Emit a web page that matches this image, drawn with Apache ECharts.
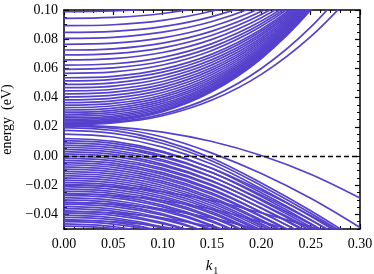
<!DOCTYPE html>
<html><head><meta charset="utf-8">
<script src="https://cdn.jsdelivr.net/npm/echarts@6/dist/echarts.min.js"></script>
<style>html,body{margin:0;padding:0;background:#fff}#c{width:374px;height:274px}</style>
</head><body><div id="c"></div>
<script>
// k grid (x values) shared by every band
const kValues = [0, 0.05, 0.10, 0.15, 0.20, 0.25, 0.30];

// conduction subbands (eV) read at kValues
const conductionBands = [
  [0.0988, 0.0993, 0.1018, 0.1072, 0.1160, 0.1288, 0.1461],
  [0.0943, 0.0949, 0.0976, 0.1035, 0.1131, 0.1271, 0.1460],
  [0.0893, 0.0899, 0.0929, 0.0993, 0.1098, 0.1252, 0.1459],
  [0.0847, 0.0854, 0.0886, 0.0955, 0.1069, 0.1235, 0.1459],
  [0.0806, 0.0813, 0.0848, 0.0921, 0.1042, 0.1219, 0.1457],
  [0.0765, 0.0773, 0.0809, 0.0887, 0.1016, 0.1204, 0.1457],
  [0.0726, 0.0734, 0.0773, 0.0855, 0.0991, 0.1189, 0.1456],
  [0.0692, 0.0701, 0.0741, 0.0827, 0.0969, 0.1176, 0.1455],
  [0.0658, 0.0667, 0.0709, 0.0799, 0.0947, 0.1163, 0.1454],
  [0.0623, 0.0632, 0.0676, 0.0770, 0.0924, 0.1150, 0.1454],
  [0.0594, 0.0604, 0.0649, 0.0746, 0.0906, 0.1139, 0.1453],
  [0.0566, 0.0576, 0.0623, 0.0723, 0.0888, 0.1129, 0.1454],
  [0.0536, 0.0546, 0.0595, 0.0698, 0.0868, 0.1117, 0.1452],
  [0.0514, 0.0525, 0.0574, 0.0680, 0.0854, 0.1109, 0.1452],
  [0.0490, 0.0501, 0.0552, 0.0660, 0.0839, 0.1100, 0.1452],
  [0.0468, 0.0479, 0.0531, 0.0642, 0.0825, 0.1092, 0.1452],
  [0.0446, 0.0457, 0.0510, 0.0624, 0.0810, 0.1083, 0.1451],
  [0.0425, 0.0437, 0.0491, 0.0606, 0.0797, 0.1075, 0.1450],
  [0.0405, 0.0417, 0.0472, 0.0590, 0.0784, 0.1068, 0.1451],
  [0.0385, 0.0397, 0.0453, 0.0573, 0.0771, 0.1060, 0.1450],
  [0.0366, 0.0378, 0.0435, 0.0558, 0.0759, 0.1053, 0.1449],
  [0.0348, 0.0360, 0.0418, 0.0543, 0.0747, 0.1046, 0.1449],
  [0.0331, 0.0344, 0.0403, 0.0529, 0.0737, 0.1040, 0.1449],
  [0.0315, 0.0328, 0.0388, 0.0516, 0.0726, 0.1034, 0.1449],
  [0.0300, 0.0313, 0.0374, 0.0503, 0.0716, 0.1028, 0.1448],
  [0.0286, 0.0299, 0.0360, 0.0492, 0.0708, 0.1023, 0.1448],
  [0.0273, 0.0286, 0.0348, 0.0481, 0.0699, 0.1018, 0.1448],
  [0.0261, 0.0274, 0.0337, 0.0471, 0.0692, 0.1014, 0.1448],
  [0.0250, 0.0264, 0.0327, 0.0462, 0.0684, 0.1009, 0.1447],
  [0.0240, 0.0254, 0.0317, 0.0454, 0.0678, 0.1006, 0.1448],
  [0.0232, 0.0246, 0.0310, 0.0447, 0.0673, 0.1003, 0.1448],
  [0.0225, 0.0239, 0.0303, 0.0441, 0.0668, 0.1000, 0.1447],
  [0.0220, 0.0232, 0.0287, 0.0405, 0.0599, 0.0882, 0.1264],
  [0.0215, 0.0226, 0.0276, 0.0383, 0.0559, 0.0817, 0.1164]
];

// valence subbands (eV) read at kValues
const valenceBands = [
  [0.0210, 0.0200, 0.0164, 0.0099, 0.0003, -0.0125, -0.0288],
  [0.0205, 0.0190, 0.0130, 0.0020, -0.0120, -0.0290, -0.0490],
  [0.0195, 0.0175, 0.0105, -0.0015, -0.0185, -0.0375, -0.0585],
  [0.0175, 0.0155, 0.0086, -0.0034, -0.0203, -0.0392, -0.0600],
  [0.0150, 0.0130, 0.0061, -0.0057, -0.0225, -0.0413, -0.0620],
  [0.0120, 0.0100, 0.0032, -0.0085, -0.0252, -0.0437, -0.0643],
  [0.0090, 0.0071, 0.0003, -0.0113, -0.0278, -0.0462, -0.0666],
  [0.0060, 0.0041, -0.0026, -0.0142, -0.0305, -0.0487, -0.0689],
  [0.0030, 0.0011, -0.0056, -0.0170, -0.0331, -0.0512, -0.0712],
  [0.0000, -0.0019, -0.0085, -0.0198, -0.0358, -0.0537, -0.0735],
  [-0.0030, -0.0049, -0.0114, -0.0226, -0.0385, -0.0562, -0.0758],
  [-0.0060, -0.0078, -0.0143, -0.0254, -0.0411, -0.0587, -0.0781],
  [-0.0090, -0.0108, -0.0172, -0.0282, -0.0438, -0.0612, -0.0804],
  [-0.0120, -0.0138, -0.0202, -0.0310, -0.0465, -0.0637, -0.0827],
  [-0.0150, -0.0168, -0.0231, -0.0339, -0.0491, -0.0662, -0.0850],
  [-0.0180, -0.0198, -0.0260, -0.0367, -0.0518, -0.0687, -0.0873],
  [-0.0210, -0.0228, -0.0289, -0.0395, -0.0544, -0.0712, -0.0896],
  [-0.0240, -0.0257, -0.0318, -0.0423, -0.0571, -0.0736, -0.0919],
  [-0.0270, -0.0287, -0.0348, -0.0451, -0.0598, -0.0761, -0.0942],
  [-0.0300, -0.0317, -0.0377, -0.0479, -0.0624, -0.0786, -0.0965],
  [-0.0330, -0.0347, -0.0406, -0.0507, -0.0651, -0.0811, -0.0988],
  [-0.0360, -0.0377, -0.0435, -0.0536, -0.0678, -0.0837, -0.1012],
  [-0.0390, -0.0407, -0.0464, -0.0564, -0.0704, -0.0861, -0.1035],
  [-0.0420, -0.0436, -0.0494, -0.0592, -0.0731, -0.0886, -0.1058],
  [-0.0450, -0.0466, -0.0523, -0.0620, -0.0757, -0.0911, -0.1081],
  [-0.0480, -0.0496, -0.0552, -0.0648, -0.0784, -0.0936, -0.1104],
  [0.0105, 0.0087, 0.0024, -0.0084, -0.0237, -0.0408, -0.0597],
  [0.0075, 0.0057, -0.0006, -0.0114, -0.0267, -0.0438, -0.0627],
  [0.0045, 0.0027, -0.0036, -0.0144, -0.0297, -0.0468, -0.0657],
  [0.0015, -0.0003, -0.0066, -0.0174, -0.0327, -0.0498, -0.0687],
  [-0.0015, -0.0033, -0.0096, -0.0204, -0.0357, -0.0528, -0.0717],
  [-0.0045, -0.0063, -0.0126, -0.0234, -0.0387, -0.0558, -0.0747],
  [-0.0075, -0.0093, -0.0156, -0.0264, -0.0417, -0.0588, -0.0777],
  [-0.0105, -0.0123, -0.0186, -0.0294, -0.0447, -0.0618, -0.0807],
  [-0.0135, -0.0153, -0.0216, -0.0324, -0.0477, -0.0648, -0.0837],
  [-0.0165, -0.0183, -0.0246, -0.0354, -0.0507, -0.0678, -0.0867],
  [-0.0195, -0.0213, -0.0276, -0.0384, -0.0537, -0.0708, -0.0897],
  [-0.0225, -0.0243, -0.0306, -0.0414, -0.0567, -0.0738, -0.0927],
  [-0.0255, -0.0273, -0.0336, -0.0444, -0.0597, -0.0768, -0.0957],
  [-0.0285, -0.0303, -0.0366, -0.0474, -0.0627, -0.0798, -0.0987],
  [-0.0315, -0.0333, -0.0396, -0.0504, -0.0657, -0.0828, -0.1017],
  [-0.0345, -0.0363, -0.0426, -0.0534, -0.0687, -0.0858, -0.1047],
  [-0.0375, -0.0393, -0.0456, -0.0564, -0.0717, -0.0888, -0.1077],
  [-0.0405, -0.0423, -0.0486, -0.0594, -0.0747, -0.0918, -0.1107],
  [-0.0435, -0.0453, -0.0516, -0.0624, -0.0777, -0.0948, -0.1137],
  [-0.0465, -0.0483, -0.0546, -0.0654, -0.0807, -0.0978, -0.1167],
  [-0.0200, -0.0210, -0.0245, -0.0305, -0.0390, -0.0485, -0.0590],
  [-0.0260, -0.0270, -0.0305, -0.0365, -0.0450, -0.0545, -0.0650],
  [-0.0320, -0.0330, -0.0365, -0.0425, -0.0510, -0.0605, -0.0710],
  [-0.0380, -0.0390, -0.0425, -0.0485, -0.0570, -0.0665, -0.0770],
  [-0.0440, -0.0450, -0.0485, -0.0545, -0.0630, -0.0725, -0.0830]
];

const yTickValues = [-0.04, -0.02, 0.00, 0.02, 0.04, 0.06, 0.08, 0.10];
const xTickLabels = ['0.00', '0.05', '0.10', '0.15', '0.20', '0.25', '0.30'];

const BAND_COLOR = '#5541cc';
const FONT = 'Liberation Serif';

const chart = echarts.init(document.getElementById('c'), null, {renderer: 'canvas'});

const series = [];
conductionBands.concat(valenceBands).forEach(function (band) {
  series.push({
    type: 'line',
    xAxisIndex: 0, yAxisIndex: 0,
    data: kValues.map(function (k, i) { return [k, band[i]]; }),
    showSymbol: false, symbol: 'none',
    smooth: 0.35,
    clip: true,
    lineStyle: {color: BAND_COLOR, width: 1.7},
    silent: true
  });
});
series.push({
  type: 'line', xAxisIndex: 0, yAxisIndex: 0, data: [], z: 10,
  markLine: {
    silent: true, symbol: ['none', 'none'], label: {show: false},
    lineStyle: {color: '#000', type: [5, 3], width: 1.4},
    data: [{yAxis: 0}]
  }
});

const axisLineStyle = {show: true, onZero: false, lineStyle: {color: '#000', width: 1.5}};

chart.setOption({
  animation: false,
  backgroundColor: '#fff',
  grid: {left: 64, right: 14, top: 10, bottom: 45, containLabel: false, outerBoundsMode: 'none'},
  xAxis: [
    {
      type: 'value', position: 'bottom', min: 0, max: 0.3, interval: 0.05,
      axisLine: axisLineStyle,
      axisTick: {show: true, inside: true, length: 5, lineStyle: {color: '#000', width: 1.2}},
      minorTick: {show: true, splitNumber: 5, length: 3, lineStyle: {color: '#000', width: 1}},
      splitLine: {show: false},
      axisLabel: {
        margin: 8, color: '#000', fontFamily: FONT, fontSize: 14,
        formatter: function (v) { return xTickLabels[Math.round(v / 0.05)]; }
      },
      name: '{i|k}{s|1}', nameLocation: 'middle', nameGap: 28,
      nameTextStyle: {
        color: '#000', fontFamily: FONT,
        rich: {
          i: {fontFamily: FONT, fontStyle: 'italic', fontSize: 15, color: '#000'},
          s: {fontFamily: FONT, fontSize: 10, color: '#000', padding: [9, 0, 0, 1]}
        }
      }
    },
    {
      type: 'value', position: 'top', min: 0, max: 0.3, interval: 0.05,
      axisLine: axisLineStyle,
      axisTick: {show: true, inside: true, length: 5, lineStyle: {color: '#000', width: 1.2}},
      minorTick: {show: true, splitNumber: 5, length: 3, lineStyle: {color: '#000', width: 1}},
      splitLine: {show: false}, axisLabel: {show: false}
    }
  ],
  yAxis: [
    {
      type: 'value', position: 'left', min: -0.05, max: 0.10,
      axisLine: axisLineStyle,
      axisTick: {show: true, inside: true, length: 5, customValues: yTickValues, lineStyle: {color: '#000', width: 1.2}},
      splitLine: {show: false},
      axisLabel: {
        customValues: yTickValues, margin: 6, color: '#000', fontFamily: FONT, fontSize: 14,
        formatter: function (v) { return v.toFixed(2).replace('-', '\u2212'); }
      },
      name: 'energy  (eV)', nameLocation: 'middle', nameGap: 48, nameRotate: 90,
      nameTextStyle: {color: '#000', fontFamily: FONT, fontSize: 14}
    },
    {
      type: 'value', position: 'left', min: -0.05, max: 0.10, interval: 0.005,
      axisLine: {show: false, onZero: false},
      axisTick: {show: true, inside: true, length: 3, lineStyle: {color: '#000', width: 1}},
      splitLine: {show: false}, axisLabel: {show: false}
    },
    {
      type: 'value', position: 'right', min: -0.05, max: 0.10,
      axisLine: axisLineStyle,
      axisTick: {show: true, inside: true, length: 5, customValues: yTickValues, lineStyle: {color: '#000', width: 1.2}},
      splitLine: {show: false}, axisLabel: {show: false}
    },
    {
      type: 'value', position: 'right', min: -0.05, max: 0.10, interval: 0.005,
      axisLine: {show: false, onZero: false},
      axisTick: {show: true, inside: true, length: 3, lineStyle: {color: '#000', width: 1}},
      splitLine: {show: false}, axisLabel: {show: false}
    }
  ],
  series: series
});
</script>
</body></html>
